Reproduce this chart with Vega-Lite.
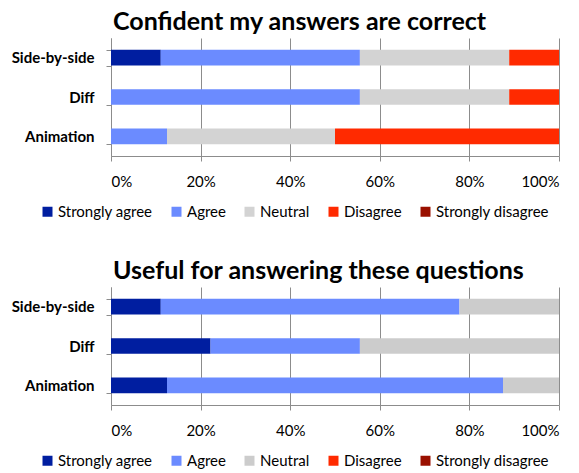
{
  "$schema": "https://vega.github.io/schema/vega-lite/v6.json",
  "padding": {"left": 11, "top": 10, "right": 10, "bottom": 0},
  "background": "white",
  "config": {
    "font": "Lato",
    "view": {"stroke": null},
    "concat": {"spacing": 39},
    "title": {"font": "Lato", "fontSize": 25, "fontWeight": "bold", "color": "#000000", "anchor": "start", "frame": "group", "dx": 2, "offset": -4},
    "axis": {"domainColor": "#8c8c8c", "tickColor": "#8c8c8c", "gridColor": "#8c8c8c", "labelColor": "#000000", "title": null, "tickSize": 5},
    "legend": {"labelFont": "Lato", "labelFontSize": 15, "labelColor": "#000000", "symbolType": "square", "symbolSize": 100, "symbolStrokeWidth": 0, "columnPadding": 16, "labelOffset": 3}
  },
  "data": {"values": [
    {"chart": "c1", "method": "Side-by-side", "response": "Strongly agree", "level": 1, "count": 1},
    {"chart": "c1", "method": "Side-by-side", "response": "Agree", "level": 2, "count": 4},
    {"chart": "c1", "method": "Side-by-side", "response": "Neutral", "level": 3, "count": 3},
    {"chart": "c1", "method": "Side-by-side", "response": "Disagree", "level": 4, "count": 1},
    {"chart": "c1", "method": "Diff", "response": "Agree", "level": 2, "count": 5},
    {"chart": "c1", "method": "Diff", "response": "Neutral", "level": 3, "count": 3},
    {"chart": "c1", "method": "Diff", "response": "Disagree", "level": 4, "count": 1},
    {"chart": "c1", "method": "Animation", "response": "Agree", "level": 2, "count": 1},
    {"chart": "c1", "method": "Animation", "response": "Neutral", "level": 3, "count": 3},
    {"chart": "c1", "method": "Animation", "response": "Disagree", "level": 4, "count": 4},
    {"chart": "c2", "method": "Side-by-side", "response": "Strongly agree", "level": 1, "count": 1},
    {"chart": "c2", "method": "Side-by-side", "response": "Agree", "level": 2, "count": 6},
    {"chart": "c2", "method": "Side-by-side", "response": "Neutral", "level": 3, "count": 2},
    {"chart": "c2", "method": "Diff", "response": "Strongly agree", "level": 1, "count": 2},
    {"chart": "c2", "method": "Diff", "response": "Agree", "level": 2, "count": 3},
    {"chart": "c2", "method": "Diff", "response": "Neutral", "level": 3, "count": 4},
    {"chart": "c2", "method": "Animation", "response": "Strongly agree", "level": 1, "count": 1},
    {"chart": "c2", "method": "Animation", "response": "Agree", "level": 2, "count": 6},
    {"chart": "c2", "method": "Animation", "response": "Neutral", "level": 3, "count": 1}
  ]},
  "vconcat": [
    {
      "title": {"text": "Confident my answers are correct"},
      "width": 448, "height": 118,
      "transform": [{"filter": "datum.chart == 'c1'"}],
      "mark": {"type": "bar"},
      "encoding": {
        "y": {"field": "method", "type": "nominal", "sort": ["Side-by-side", "Diff", "Animation"],
              "scale": {"paddingInner": 0.6, "paddingOuter": 0.3},
              "axis": {"tickBand": "extent", "labelFontSize": 15, "labelFontWeight": "bold", "labelPadding": 12}},
        "x": {"field": "count", "type": "quantitative", "stack": "normalize",
              "scale": {"domain": [0, 1], "nice": false},
              "axis": {"values": [0, 0.2, 0.4, 0.6, 0.8, 1], "format": ".0%", "grid": true, "labelFontSize": 15, "labelPadding": 13}},
        "order": {"field": "level", "type": "quantitative", "sort": "ascending"},
        "color": {"field": "response", "type": "nominal",
                  "scale": {"domain": ["Strongly agree", "Agree", "Neutral", "Disagree", "Strongly disagree"],
                            "range": ["#001ea0", "#6b8bff", "#d3d3d3", "#ff2a00", "#9a1000"]},
                  "legend": {"title": null, "orient": "none", "direction": "horizontal", "legendX": -71, "legendY": 166}}
      }
    },
    {
      "title": {"text": "Useful for answering these questions"},
      "width": 448, "height": 118,
      "transform": [{"filter": "datum.chart == 'c2'"}],
      "mark": {"type": "bar"},
      "encoding": {
        "y": {"field": "method", "type": "nominal", "sort": ["Side-by-side", "Diff", "Animation"],
              "scale": {"paddingInner": 0.6, "paddingOuter": 0.3},
              "axis": {"tickBand": "extent", "labelFontSize": 15, "labelFontWeight": "bold", "labelPadding": 12}},
        "x": {"field": "count", "type": "quantitative", "stack": "normalize",
              "scale": {"domain": [0, 1], "nice": false},
              "axis": {"values": [0, 0.2, 0.4, 0.6, 0.8, 1], "format": ".0%", "grid": true, "labelFontSize": 15, "labelPadding": 13}},
        "order": {"field": "level", "type": "quantitative", "sort": "ascending"},
        "color": {"field": "response", "type": "nominal",
                  "scale": {"domain": ["Strongly agree", "Agree", "Neutral", "Disagree", "Strongly disagree"],
                            "range": ["#001ea0", "#6b8bff", "#cccccc", "#ff2a00", "#9a1000"]},
                  "legend": {"title": null, "orient": "none", "direction": "horizontal", "legendX": -71, "legendY": 166}}
      }
    }
  ],
  "resolve": {"scale": {"color": "independent"}, "legend": {"color": "independent"}}
}
